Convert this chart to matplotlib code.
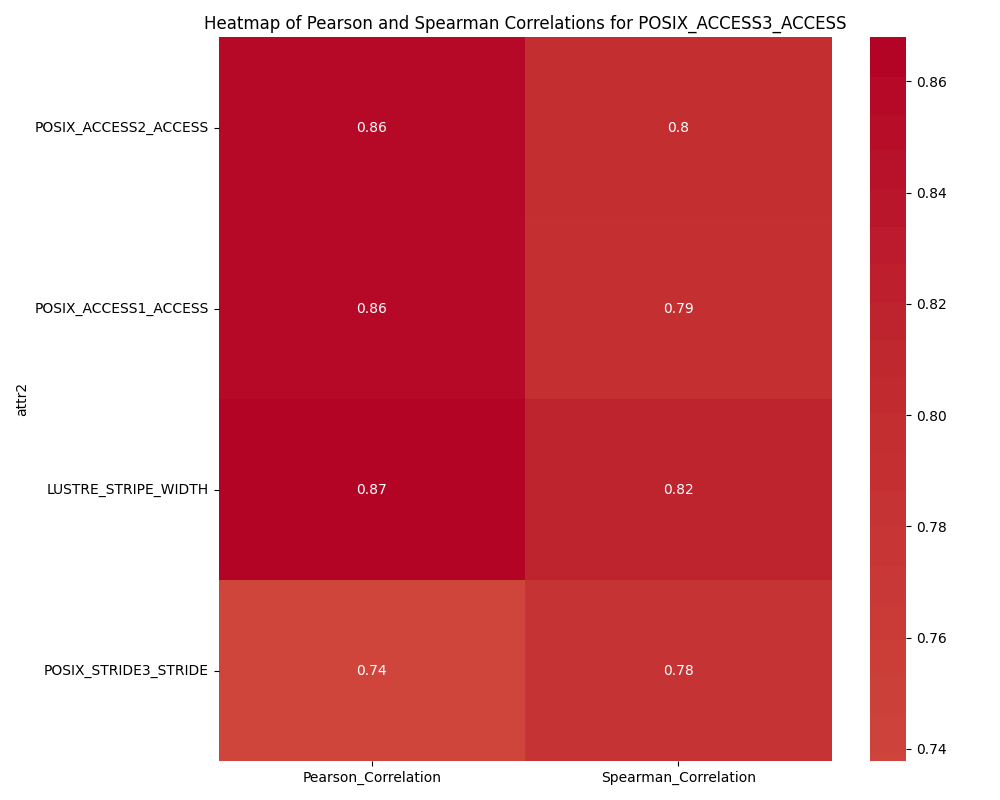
import matplotlib
matplotlib.use("Agg")
import matplotlib.pyplot as plt
import seaborn as sns
import pandas as pd

# correlations against POSIX_ACCESS3_ACCESS
attr2 = ["POSIX_ACCESS2_ACCESS", "POSIX_ACCESS1_ACCESS", "LUSTRE_STRIPE_WIDTH", "POSIX_STRIDE3_STRIDE"]
pearson = [0.859, 0.858, 0.8679, 0.7378]
spearman = [0.798, 0.792, 0.818, 0.783]

df = pd.DataFrame({
    "Pearson_Correlation": pearson,
    "Spearman_Correlation": spearman,
}, index=pd.Index(attr2, name="attr2"))

plt.figure(figsize=(10, 8))
sns.heatmap(df, annot=True, cmap="coolwarm", center=0)
plt.title("Heatmap of Pearson and Spearman Correlations for POSIX_ACCESS3_ACCESS")
plt.yticks(rotation=0)
plt.tight_layout()
plt.savefig("out.png", dpi=100)
